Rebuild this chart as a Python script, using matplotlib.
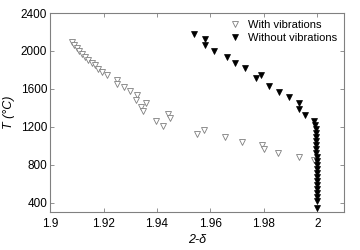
import matplotlib
matplotlib.use('Agg')
import matplotlib.pyplot as plt

plt.rcParams['font.family'] = ['Liberation Sans', 'DejaVu Sans']

# open triangles: with vibrations
with_x = [1.9081, 1.9090, 1.9100, 1.9110, 1.9121, 1.9131, 1.9143, 1.9156, 1.9167, 1.9179,
          1.9194, 1.9212, 1.9250, 1.9252, 1.9278, 1.9300, 1.9327, 1.9322, 1.9360, 1.9341,
          1.9346, 1.9396, 1.9424, 1.9443, 1.9450, 1.9549, 1.9574, 1.9655, 1.9718, 1.9793,
          1.9799, 1.9851, 1.9932, 1.9986]
with_T = [2090, 2065, 2033, 2001, 1966, 1934, 1902, 1868, 1850, 1808,
          1779, 1744, 1691, 1656, 1620, 1575, 1532, 1480, 1451, 1409,
          1367, 1261, 1205, 1339, 1296, 1120, 1162, 1091, 1038, 1003,
          968, 926, 885, 845]

# filled triangles: without vibrations
without_x = [1.9537, 1.9580, 1.9580, 1.9612, 1.9662, 1.9693, 1.9730, 1.9789, 1.9772, 1.9818,
             1.9858, 1.9893, 1.9930, 1.9930, 1.9955, 1.9986, 1.9992, 1.9993, 1.9994, 1.9994,
             1.9995, 1.9995, 1.9996, 1.9996, 1.9997, 1.9997, 1.9997, 1.9998, 1.9998, 1.9998,
             1.9999, 1.9999, 1.9999, 2.0000, 2.0000, 2.0000, 2.0000]
without_T = [2175, 2125, 2061, 1998, 1931, 1868, 1815, 1751, 1709, 1631,
             1567, 1514, 1445, 1392, 1325, 1265, 1215, 1172, 1130, 1088,
             1046, 1004, 962, 920, 878, 836, 794, 752, 710, 668,
             626, 584, 542, 500, 458, 416, 340]

fig = plt.figure(figsize=(3.6, 2.5), dpi=100)
ax = fig.add_axes([0.139, 0.152, 0.817, 0.796])

ax.plot(with_x, with_T, linestyle='none', marker='v', markersize=5,
        markerfacecolor='white', markeredgecolor='#7f7f7f', markeredgewidth=0.6,
        label='With vibrations')
ax.plot(without_x, without_T, linestyle='none', marker='v', markersize=4.2,
        markerfacecolor='black', markeredgecolor='black', markeredgewidth=0.5,
        label='Without vibrations')

ax.set_xlim(1.9, 2.01)
ax.set_ylim(300, 2400)
ax.set_xticks([1.9, 1.92, 1.94, 1.96, 1.98, 2.0])
ax.set_xticklabels(['1.9', '1.92', '1.94', '1.96', '1.98', '2'])
ax.set_yticks([400, 800, 1200, 1600, 2000, 2400])

for s in ax.spines.values():
    s.set_color('#808080')
    s.set_linewidth(0.8)
ax.tick_params(direction='in', top=True, right=True, length=3, width=0.6,
               color='#808080', labelsize=8.5)
ax.tick_params(axis='x', pad=4)
ax.tick_params(axis='y', pad=2)

ax.set_xlabel('2-δ', fontsize=9, style='italic', labelpad=3)
ax.set_ylabel('T (°C)', fontsize=9, style='italic', labelpad=4)

ax.legend(loc='upper right', frameon=False, fontsize=8, handletextpad=0.6,
          borderaxespad=0.2, labelspacing=0.3, handlelength=1.2)

fig.savefig('out.png', dpi=100)
